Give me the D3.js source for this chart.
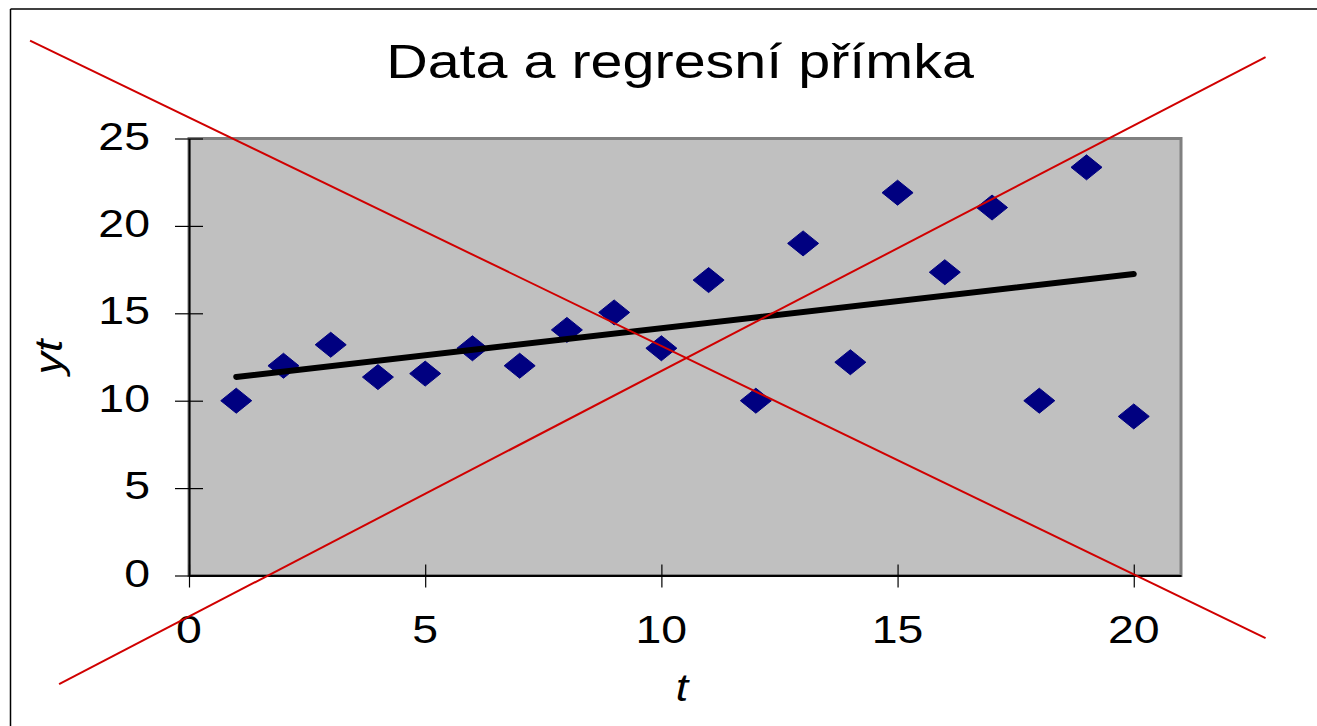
<!DOCTYPE html>
<html>
<head>
<meta charset="utf-8">
<script src="https://cdn.jsdelivr.net/npm/d3@7"></script>
<style>
  html, body { margin: 0; padding: 0; background: #fff; }
  svg { display: block; }
  text { font-family: "Liberation Sans", Arial, sans-serif; fill: #000; }
</style>
</head>
<body>
<svg id="chart" width="1317" height="726"></svg>
<script>
// ---- data ----
const titleText = "Data a regresní přímka";
const xLabel = "t";
const yLabel = "yt";
const tValues  = [1, 2, 3, 4, 5, 6, 7, 8, 9, 10, 11, 12, 13, 14, 15, 16, 17, 18, 19, 20];
const ytValues = [10, 12, 13.2, 11.35, 11.55, 13, 12, 14.05, 15.05, 13, 16.9, 10, 19, 12.2, 21.9, 17.35, 21.05, 10, 23.35, 9.1];
const xTicks = [0, 5, 10, 15, 20];
const yTicks = [0, 5, 10, 15, 20, 25];
const xDomain = [0, 21];
const yDomain = [0, 25];
// red cross-out strokes, endpoints in data units [t, yt]
const crossStart = [[-3.365, 30.6], [-2.75, -6.21]];
const crossEnd   = [[22.79, -3.58], [22.79, 29.66]];

// ---- layout ----
const svg = d3.select("#chart");
const plot = { left: 189, right: 1181, top: 138.5, bottom: 575.5 };

const x = d3.scaleLinear().domain(xDomain).range([plot.left, plot.right]);
const y = d3.scaleLinear().domain(yDomain).range([plot.bottom, plot.top]);

// outer frame (top & left)
svg.append("line").attr("x1", 10.5).attr("y1", 9).attr("x2", 1317).attr("y2", 9)
  .attr("stroke", "#000").attr("stroke-width", 1.5);
svg.append("line").attr("x1", 10.5).attr("y1", 9).attr("x2", 10.5).attr("y2", 726)
  .attr("stroke", "#000").attr("stroke-width", 1.5);

// plot area
svg.append("rect")
  .attr("x", plot.left).attr("y", plot.top)
  .attr("width", plot.right - plot.left).attr("height", plot.bottom - plot.top)
  .attr("fill", "#C0C0C0").attr("stroke", "#808080").attr("stroke-width", 3);

// axes
const yAxis = d3.axisLeft(y).tickValues(yTicks).tickSize(0).tickFormat("");
const gy = svg.append("g").attr("transform", `translate(${plot.left},0)`).call(yAxis);
gy.select(".domain").attr("stroke", "#000").attr("stroke-width", 2);
gy.selectAll(".tick").append("line").attr("x1", -14).attr("x2", 14)
  .attr("stroke", "#000").attr("stroke-width", 1.2);

const xAxis = d3.axisBottom(x).tickValues(xTicks).tickSize(0).tickFormat("");
const gx = svg.append("g").attr("transform", `translate(0,${plot.bottom})`).call(xAxis);
gx.select(".domain").attr("stroke", "#000").attr("stroke-width", 2);
gx.selectAll(".tick").append("line").attr("y1", -11).attr("y2", 12)
  .attr("stroke", "#000").attr("stroke-width", 1.2);

// stretched text helper
function stext(px, py, str, size, anchor, sx, opts = {}) {
  const g = svg.append("g").attr("transform",
    `translate(${px},${py}) ${opts.rotate ? `rotate(${opts.rotate})` : ""} scale(${sx},1)`);
  g.append("text").attr("x", 0).attr("y", 0)
    .attr("text-anchor", anchor)
    .attr("font-size", size)
    .attr("font-style", opts.italic ? "italic" : "normal")
    .text(str);
  return g;
}

// tick labels
yTicks.forEach(v => stext(150, y(v) + 11, String(v), 39, "end", 1.19));
xTicks.forEach(v => stext(x(v), 643, String(v), 39, "middle", 1.19));

// axis titles
stext(682, 701, xLabel, 39, "middle", 1.15, { italic: true });
stext(62, 357, yLabel, 39, "middle", 1.15, { italic: true, rotate: -90 });

// title
stext(680, 77.5, titleText, 47.5, "middle", 1.21);

// data diamonds
const pts = tValues.map((t, i) => ({ t, v: ytValues[i] }));
svg.append("g").selectAll("path").data(pts).join("path")
  .attr("transform", d => `translate(${x(d.t)},${y(d.v)})`)
  .attr("d", "M0,-12.5L15.5,0L0,12.5L-15.5,0Z")
  .attr("fill", "#000080").attr("stroke", "#000080")
  .attr("stroke-width", 1).attr("stroke-linejoin", "round");

// regression line (least squares of the data)
const mt = d3.mean(tValues), my = d3.mean(ytValues);
const slope = d3.sum(tValues, (t, i) => (t - mt) * (ytValues[i] - my)) / d3.sum(tValues, t => (t - mt) ** 2);
const icpt = my - slope * mt;
const tExt = d3.extent(tValues);
svg.append("path")
  .datum(tExt.map(t => [t, icpt + slope * t]))
  .attr("d", d3.line().x(d => x(d[0])).y(d => y(d[1])))
  .attr("fill", "none").attr("stroke", "#000").attr("stroke-width", 6)
  .attr("stroke-linecap", "round");

// red cross-out lines
svg.append("g").selectAll("line").data(crossStart.map((s, i) => [s, crossEnd[i]])).join("line")
  .attr("x1", d => x(d[0][0])).attr("y1", d => y(d[0][1]))
  .attr("x2", d => x(d[1][0])).attr("y2", d => y(d[1][1]))
  .attr("stroke", "#D00000").attr("stroke-width", 2);
</script>
</body>
</html>
